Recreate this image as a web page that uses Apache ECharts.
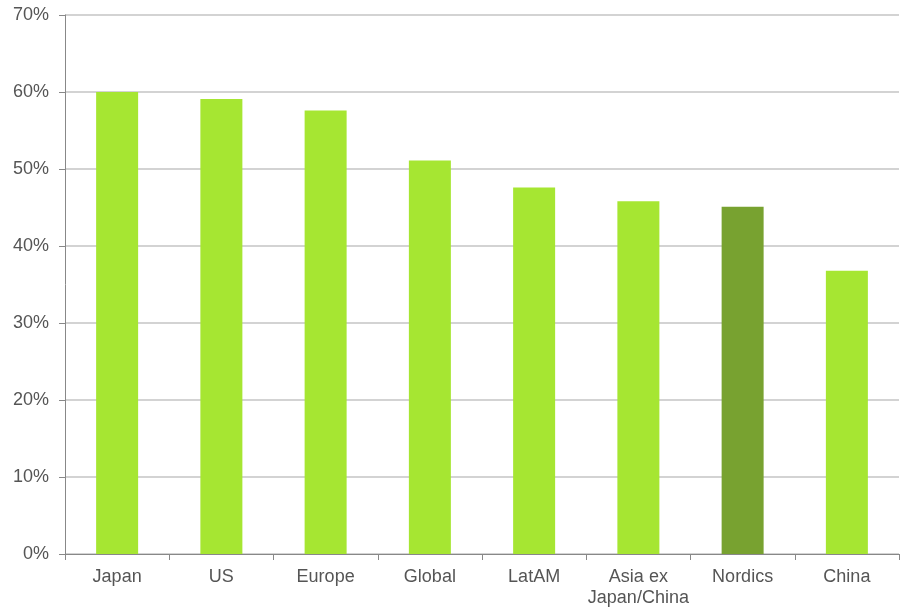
<!DOCTYPE html>
<html lang="en">
<head>
  <meta charset="UTF-8">
  <title>Chart</title>
  <script src="https://cdn.jsdelivr.net/npm/echarts@6/dist/echarts.min.js"></script>
  <style>
    html, body { margin: 0; padding: 0; background: #fff; }
    #main { width: 906px; height: 609px; }
  </style>
</head>
<body>
<div id="main"></div>
<script>
  var categories = ['Japan', 'US', 'Europe', 'Global', 'LatAM', 'Asia ex\nJapan/China', 'Nordics', 'China'];
  var values = [60.0, 59.1, 57.6, 51.1, 47.6, 45.8, 45.1, 36.8];
  var highlight = 'Nordics';

  var lightGreen = '#a6e632';
  var darkGreen = '#78a230';
  var textColor = '#555555';

  var barData = values.map(function (v, i) {
    return {
      value: v,
      itemStyle: { color: categories[i] === highlight ? darkGreen : lightGreen }
    };
  });

  var myChart = echarts.init(document.getElementById('main'));
  var option = {
    animation: false,
    grid: { left: 65, right: 7, top: 15, bottom: 54 },
    xAxis: {
      type: 'category',
      data: categories,
      axisLine: { lineStyle: { color: '#888888', width: 1 } },
      axisTick: { show: true, alignWithLabel: false, length: 6, lineStyle: { color: '#888888' } },
      axisLabel: {
        color: textColor, fontSize: 18, fontFamily: 'Liberation Sans, Arial, sans-serif',
        margin: 13, lineHeight: 21, interval: 0
      }
    },
    yAxis: {
      type: 'value',
      min: 0, max: 70, interval: 10,
      axisLine: { show: true, lineStyle: { color: '#888888' } },
      axisTick: { show: true, length: 6, lineStyle: { color: '#888888' } },
      splitLine: { lineStyle: { color: '#c4c4c4', width: 1.5 } },
      axisLabel: {
        color: textColor, fontSize: 18, fontFamily: 'Liberation Sans, Arial, sans-serif',
        margin: 16, formatter: '{value}%'
      }
    },
    series: [{
      type: 'bar',
      data: barData,
      barWidth: 42
    }]
  };
  myChart.setOption(option);
</script>
</body>
</html>
